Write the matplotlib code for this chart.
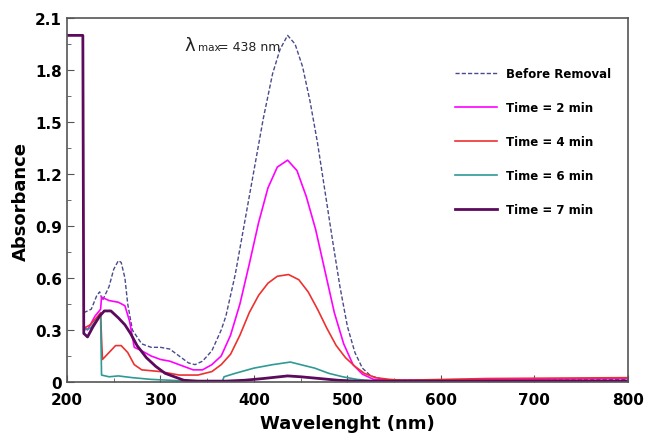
import matplotlib
matplotlib.use("Agg")
import matplotlib.pyplot as plt
from matplotlib.ticker import MultipleLocator

wl_before = [218, 226, 232, 235, 238, 245, 250, 255, 258, 262, 265, 270, 280, 290, 300, 310, 320, 330, 337, 345, 355, 365, 370, 380, 390, 400, 410, 420, 428, 436, 444, 452, 460, 468, 476, 484, 492, 500, 508, 516, 525, 540, 600, 650, 700, 800]
ab_before = [0.40, 0.42, 0.50, 0.52, 0.47, 0.55, 0.65, 0.70, 0.69, 0.60, 0.45, 0.30, 0.22, 0.20, 0.20, 0.19, 0.15, 0.11, 0.10, 0.12, 0.18, 0.30, 0.38, 0.62, 0.92, 1.22, 1.52, 1.78, 1.92, 2.00, 1.95, 1.82, 1.62, 1.38, 1.10, 0.82, 0.55, 0.32, 0.17, 0.08, 0.035, 0.012, 0.01, 0.01, 0.015, 0.015]

wl_2 = [218, 222, 230, 236, 237, 245, 255, 262, 267, 272, 280, 290, 300, 310, 320, 335, 345, 355, 365, 375, 385, 395, 405, 415, 425, 436, 446, 456, 466, 476, 486, 496, 506, 516, 528, 550, 800]
ab_2 = [0.32, 0.30, 0.38, 0.42, 0.49, 0.47, 0.46, 0.44, 0.35, 0.20, 0.18, 0.15, 0.13, 0.12, 0.10, 0.07, 0.07, 0.10, 0.15, 0.27, 0.45, 0.68, 0.92, 1.12, 1.24, 1.28, 1.22, 1.07, 0.88, 0.64, 0.40, 0.22, 0.10, 0.045, 0.015, 0.01, 0.02]

wl_4 = [218, 225, 233, 236, 237, 238, 245, 252, 258, 265, 272, 280, 300, 320, 340, 355, 365, 375, 385, 395, 405, 415, 425, 437, 448, 458, 468, 478, 488, 498, 508, 518, 530, 545, 560, 650, 800]
ab_4 = [0.31, 0.33, 0.38, 0.40, 0.25, 0.13, 0.17, 0.21, 0.21, 0.17, 0.10, 0.07, 0.06, 0.04, 0.04, 0.06, 0.10, 0.16, 0.27, 0.40, 0.50, 0.57, 0.61, 0.62, 0.59, 0.52, 0.42, 0.31, 0.21, 0.14, 0.09, 0.05, 0.025, 0.015, 0.01, 0.02, 0.025]

wl_6 = [218, 225, 233, 236, 237, 245, 255, 270, 290, 310, 330, 366, 368, 380, 400, 420, 439, 450, 465, 480, 495, 510, 530, 800]
ab_6 = [0.30, 0.31, 0.37, 0.38, 0.04, 0.03, 0.035, 0.025, 0.015, 0.01, 0.005, 0.0, 0.03, 0.05, 0.08, 0.10, 0.115, 0.10, 0.08, 0.05, 0.03, 0.015, 0.005, 0.005]

wl_7 = [200, 217, 218, 222, 228, 235, 240, 247, 255, 262, 268, 275, 285, 295, 305, 315, 325, 340, 370, 390, 410, 436, 450, 470, 490, 510, 800]
ab_7 = [2.00, 2.00, 0.28, 0.26, 0.32, 0.38, 0.41, 0.41, 0.37, 0.33, 0.28, 0.21, 0.14, 0.09, 0.05, 0.03, 0.01, 0.005, 0.005, 0.01, 0.02, 0.035, 0.03, 0.02, 0.01, 0.005, 0.005]

labels = ["Before Removal", "Time = 2 min", "Time = 4 min", "Time = 6 min", "Time = 7 min"]
y_ticks = [0, 0.3, 0.6, 0.9, 1.2, 1.5, 1.8, 2.1]
y_ticklabels = ["0", "0.3", "0.6", "0.9", "1.2", "1.5", "1.8", "2.1"]

fig = plt.figure(figsize=(6.5, 4.39), dpi=100)
ax = fig.add_axes([0.103, 0.1276, 0.863, 0.829])

ax.plot(wl_before, ab_before, color="#4a4a8c", lw=1.0, ls=(0, (3, 1.5)), label=labels[0])
ax.plot(wl_2, ab_2, color="#ff00ff", lw=1.2, label=labels[1])
ax.plot(wl_4, ab_4, color="#ee3030", lw=1.2, label=labels[2])
ax.plot(wl_6, ab_6, color="#2e9a94", lw=1.2, label=labels[3])
ax.plot(wl_7, ab_7, color="#5c0a5c", lw=2.0, label=labels[4])

ax.set_xlim(200, 800)
ax.set_ylim(0, 2.1)
ax.xaxis.set_major_locator(MultipleLocator(100))
ax.xaxis.set_minor_locator(MultipleLocator(50))
ax.yaxis.set_minor_locator(MultipleLocator(0.15))
ax.set_yticks(y_ticks)
ax.set_yticklabels(y_ticklabels)
ax.tick_params(which="both", direction="in", top=False, right=False, color="#555555")
ax.tick_params(which="major", length=5, labelsize=11)
ax.tick_params(axis="x", which="major", pad=7)
ax.tick_params(which="minor", length=3)
for lab in ax.get_xticklabels() + ax.get_yticklabels():
    lab.set_fontweight("bold")
for s in ax.spines.values():
    s.set_color("#555555")
    s.set_linewidth(1.2)

ax.set_xlabel("Wavelenght (nm)", fontsize=13, fontweight="bold", labelpad=5)
ax.set_ylabel("Absorbance", fontsize=13, fontweight="bold", labelpad=4)

ax.text(326, 1.915, "λ", fontsize=13, ha="left", va="baseline", color="#222222")
ax.text(340, 1.915, "max", fontsize=7.5, ha="left", va="baseline", color="#222222")
ax.text(362, 1.915, "= 438 nm", fontsize=9, ha="left", va="baseline", color="#222222")

leg = ax.legend(loc="upper left", bbox_to_anchor=(0.672, 0.895), frameon=False, handlelength=3.6,
                labelspacing=1.78, prop={"weight": "bold", "size": 8.5})

fig.savefig("out.png", dpi=100)
